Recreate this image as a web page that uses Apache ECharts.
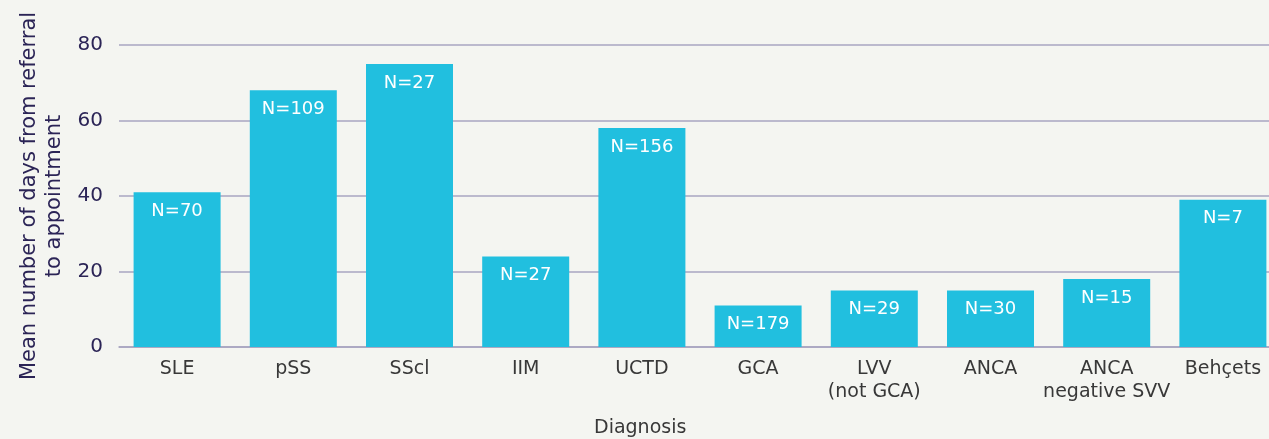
<!DOCTYPE html>
<html>
<head>
<meta charset="utf-8">
<script src="https://cdn.jsdelivr.net/npm/echarts@6/dist/echarts.min.js"></script>
<style>
  html, body { margin: 0; padding: 0; background: #F4F5F1; }
  #chart { width: 1269px; height: 439px; }
</style>
</head>
<body>
<div id="chart"></div>
<script>
// categories and values
var categories = ['SLE', 'pSS', 'SScl', 'IIM', 'UCTD', 'GCA', 'LVV\n(not GCA)', 'ANCA', 'ANCA\nnegative SVV', 'Behçets']
var meanDays = [41, 68, 75, 24, 58, 11, 15, 15, 18, 39]
var nLabels = ['N=70', 'N=109', 'N=27', 'N=27', 'N=156', 'N=179', 'N=29', 'N=30', 'N=15', 'N=7']
var yTicks = [0, 20, 40, 60, 80]

var font = 'DejaVu Sans'
var myChart = echarts.init(document.getElementById('chart'))

var option = {
  backgroundColor: '#F4F5F1',
  textStyle: { fontFamily: font },
  grid: {
    left: 119,
    right: -12,
    top: 45,
    bottom: 92,
    outerBoundsMode: 'none',
    containLabel: false
  },
  xAxis: {
    type: 'category',
    data: categories,
    axisLine: { show: true, lineStyle: { color: '#A8A4C0', width: 1.5 } },
    axisTick: { show: false },
    axisLabel: {
      color: '#383838',
      fontFamily: font,
      fontSize: 19,
      lineHeight: 23,
      margin: 11,
      interval: 0
    }
  },
  yAxis: {
    type: 'value',
    min: yTicks[0],
    max: yTicks[yTicks.length - 1],
    interval: 20,
    name: 'Mean number of days from referral\nto appointment',
    nameLocation: 'middle',
    nameGap: 52,
    nameTextStyle: { color: '#2B2456', fontFamily: font, fontSize: 21, lineHeight: 25 },
    axisLine: { show: false },
    axisTick: { show: false },
    axisLabel: { color: '#2B2456', fontFamily: font, fontSize: 20, margin: 16 },
    splitLine: { lineStyle: { color: '#A8A4C0', width: 1.5 } }
  },
  graphic: [
    {
      type: 'text',
      left: 594,
      top: 419,
      style: { text: 'Diagnosis', fill: '#383838', fontSize: 19, fontFamily: font }
    }
  ],
  series: [
    {
      type: 'bar',
      data: meanDays,
      barWidth: 87,
      itemStyle: { color: '#21BFDF' },
      label: {
        show: true,
        position: 'insideTop',
        distance: 10,
        color: '#FFFFFF',
        fontFamily: font,
        fontSize: 18,
        formatter: function (p) { return nLabels[p.dataIndex] }
      }
    }
  ]
}

myChart.setOption(option)
</script>
</body>
</html>
